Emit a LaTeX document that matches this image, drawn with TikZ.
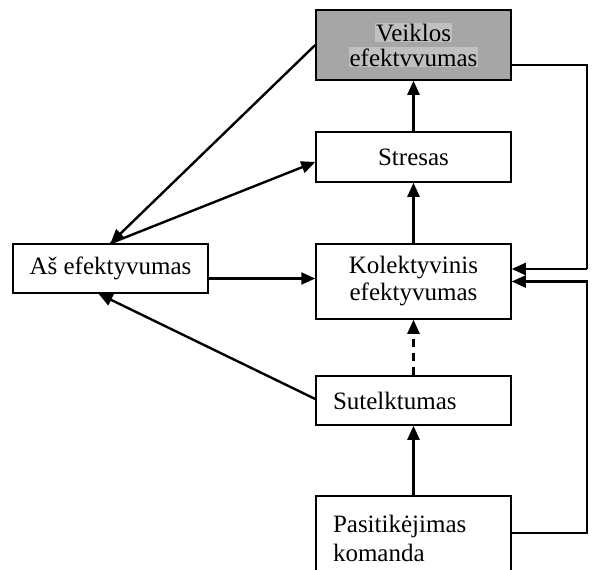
\documentclass[tikz,border=0pt]{standalone}
\usepackage{fontspec}
\setmainfont{Liberation Serif}
\usetikzlibrary{arrows.meta,positioning,calc}
\definecolor{boxgray}{RGB}{166,166,166}
\definecolor{markgray}{RGB}{192,192,192}
\setlength{\fboxsep}{1pt}

\begin{document}
\begin{tikzpicture}[x=1pt,y=-1pt,
        box/.style={draw, line width=1.5pt, minimum width=195pt, inner sep=0pt,
            font=\fontsize{25}{27}\selectfont, align=center},
        arr/.style={line width=2.4pt, -{Triangle[length=14pt,width=12pt]}}]
        \useasboundingbox (0,0) rectangle (592,570);
        % Boxes
        \node[box, fill=boxgray, minimum height=70pt] (veik) at (413.5,45)
            {\colorbox{markgray}{Veiklos}\\[-2pt]\colorbox{markgray}{efektvvumas}};
        \node[box, minimum height=50pt] (stres) at (413.5,157) {Stresas};
        \node[box, minimum height=75pt] (kol) at (413.5,281.5) {Kolektyvinis\\efektyvumas};
        \node[box, minimum height=49pt] (as) at (110.5,268.5) {Aš efektyvumas};
        \node[box, minimum height=49pt, text width=161pt, align=left] (sut) at (413.5,400.5) {Sutelktumas};
        \node[box, minimum height=84pt, text width=161pt, align=left] (pas) at (413.5,538)
            {Pasitikėjimas\\[2pt]komanda};
        % Middle column
        \draw[arr] (stres) -- (veik);
        \draw[arr] (kol) -- (stres);
        \draw[arr, dash pattern=on 8pt off 6pt] (sut) -- (kol);
        \draw[arr] (pas) -- (sut);
        % Left side
        \draw[arr] (veik.west) -- (as.north);
        \draw[arr] (as.north) -- ([yshift=-5pt]stres.west);
        \draw[arr] ([yshift=-10pt]as.east) -- ([yshift=-10pt]as.east -| kol.west);
        \draw[arr] ([yshift=1.5pt]sut.west) -- ([xshift=-12pt]as.south);
        % Feedback on the right
        \coordinate (rgt) at (587,0);
        \coordinate (top) at ($(rgt |- kol.east)+(0,-12.5)$);
        \draw[line width=1.3pt] ([yshift=-20pt]veik.east) -| (top);
        \draw[arr] (top) -- (top -| kol.east);
        \draw[arr] ([yshift=5pt]pas.east) -| (rgt |- kol.east) -- (kol.east);
    \end{tikzpicture}
\end{document}
